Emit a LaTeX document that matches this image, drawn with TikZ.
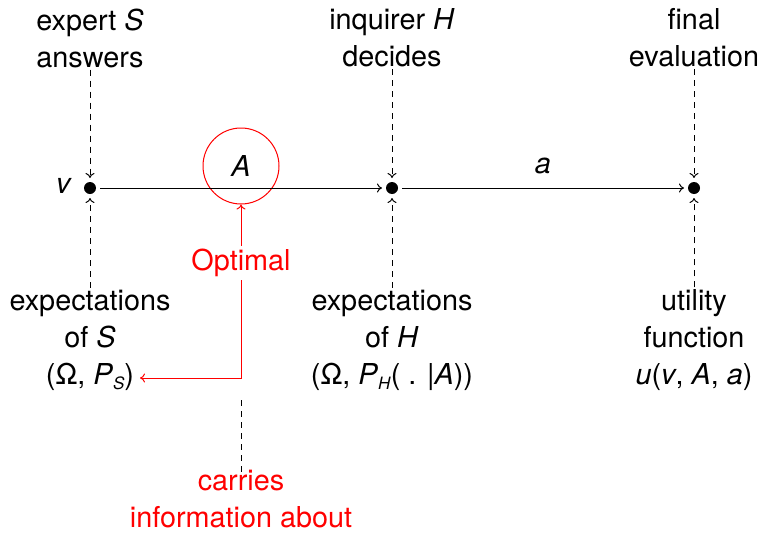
\documentclass[tikz,border=0pt]{standalone}
\usepackage{fontspec}
\setmainfont{TeX Gyre Heros}
\usetikzlibrary{arrows.meta}
\newcommand{\sub}[1]{\raisebox{-0.35ex}{\fontsize{17}{17}\selectfont\textit{#1}}}
\begin{document}
\begin{tikzpicture}[x=1pt,y=-1pt,
  every node/.style={font=\fontsize{28.8}{37}\selectfont},
  lbl/.style={align=center,inner sep=2pt},
  dot/.style={circle,fill=black,inner sep=0pt,minimum size=12pt,outer sep=4pt},
  dsh/.style={dash pattern=on 6pt off 5pt,line width=1pt},
  conn/.style={line width=1pt,-{To[length=5pt,width=9pt]}},
  red conn/.style={red,line width=1pt},
  tip/.style={-{To[length=5pt,width=9pt]}}
]
\useasboundingbox (0,0) rectangle (761,533);
% dots
\node[dot] (dS) at (90,188) {};
\node[dot] (dH) at (392,188) {};
\node[dot] (dF) at (694,188) {};
\node[anchor=east,inner sep=0pt] (v) at (72,186) {\textit{v}};
% top labels
\node[lbl] (tS) at (90,38) {expert \textit{S}\\answers};
\node[lbl] (tH) at (392,38) {inquirer \textit{H}\\decides};
\node[lbl] (tF) at (694,38) {final\\evaluation};
% bottom labels
\node[lbl] (bS) at (90,340) {expectations\\of \textit{S}\\(Ω, \textit{P}\sub{S})};
\node[lbl] (bH) at (392,340) {expectations\\of \textit{H}\\(Ω, \textit{P}\sub{H}( . |\textit{A}))};
\node[lbl] (bF) at (694,340) {utility\\function\\\textit{u}(\textit{v}, \textit{A}, \textit{a})};
% circle A
\node[circle,draw=red,line width=1pt,minimum size=76pt,inner sep=0pt] (cA) at (241,166) {\textit{A}};
\node[inner sep=0pt] (a) at (543,166) {\textit{a}};
\node[red,inner sep=3pt] (opt) at (241,263) {Optimal};
\node[red,align=center,inner sep=0pt] (car) at (241,499) {carries\\information about};
\coordinate (pend) at (140,378);
\coordinate (cartop) at (241,395);
% dashed connectors
\foreach \t/\d in {tS/dS,tH/dH,tF/dF}{
  \draw[dsh,tip] (\t.south) -- (\d.north);
}
\foreach \b/\d in {bS/dS,bH/dH,bF/dF}{
  \draw[dsh,tip] (\b.north) -- (\d.south);
}
% main arrows
\draw[conn] (dS) -- (dH);
\draw[conn] (dH) -- (dF);
% red
\draw[red conn,tip] (opt.north) -- (cA.south);
\draw[red conn,tip] (opt.south) |- (pend);
\draw[dsh] ([yshift=-2pt]car.north) -- (cartop);
\end{tikzpicture}
\end{document}
